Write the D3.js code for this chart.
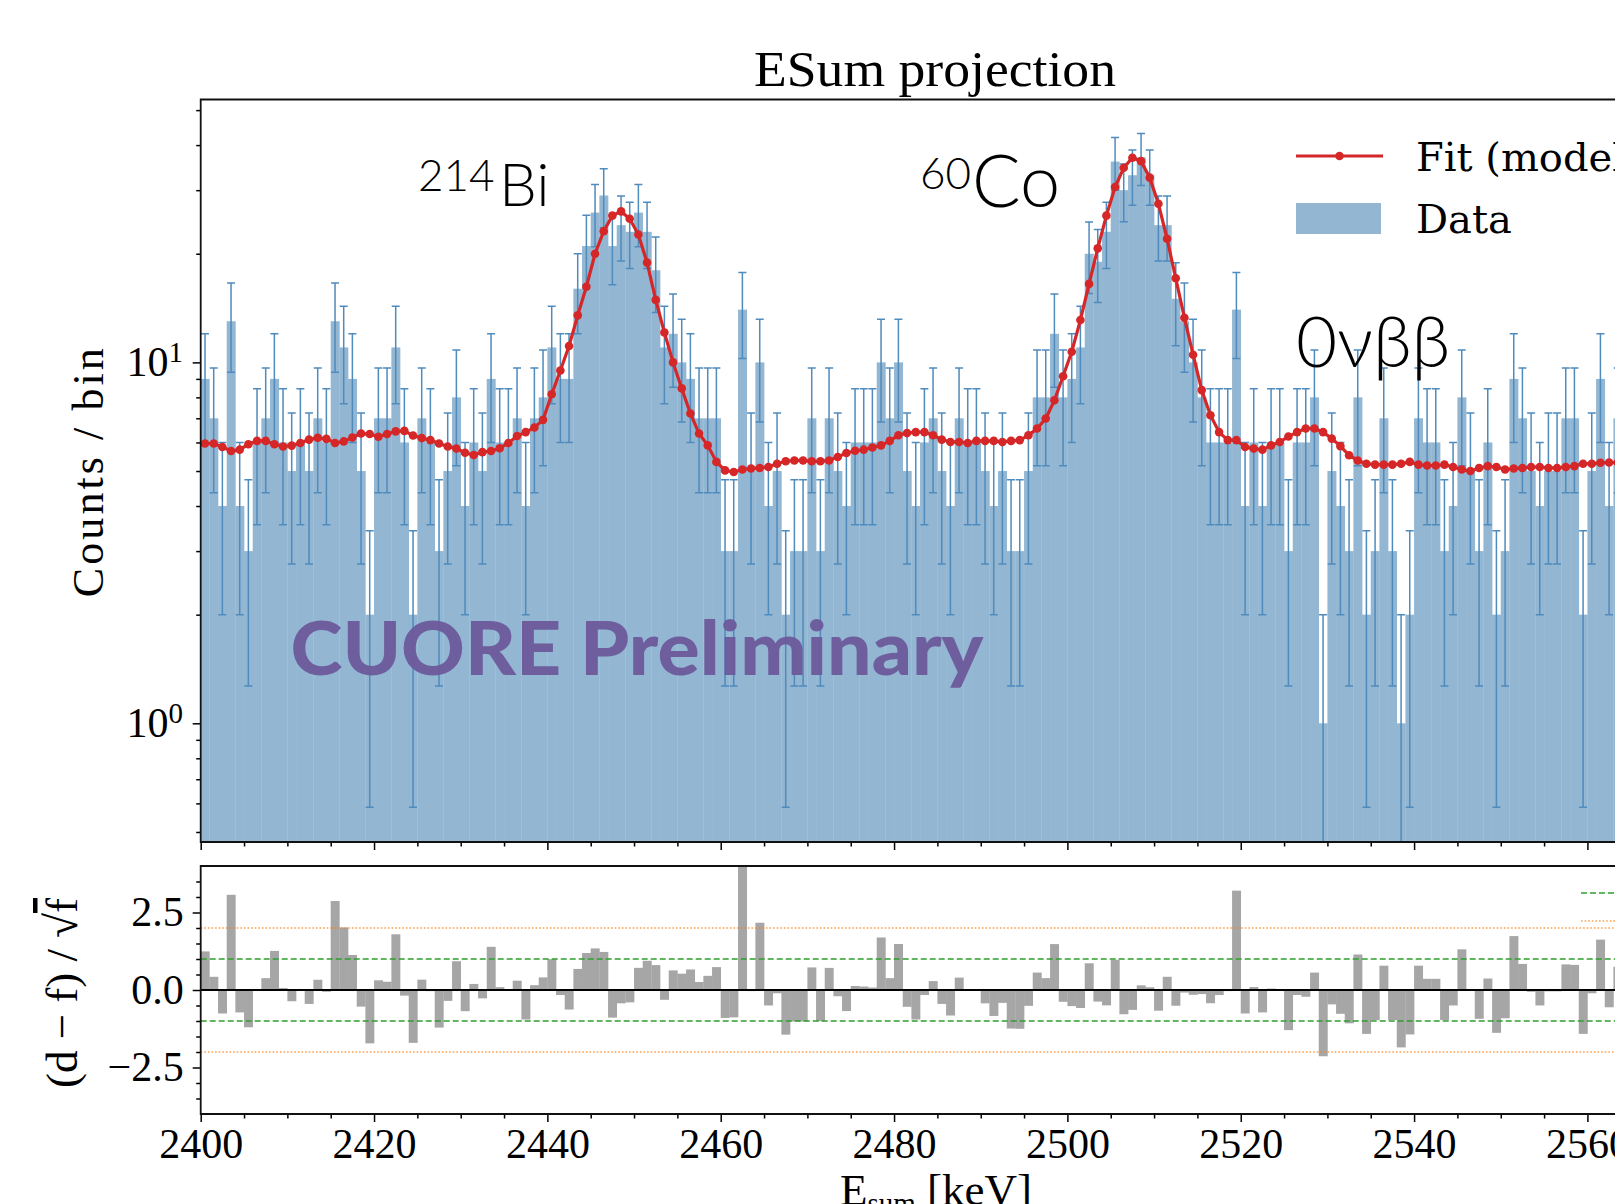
<!DOCTYPE html>
<html>
<head>
<meta charset="utf-8">
<script src="https://cdn.jsdelivr.net/npm/d3@7"></script>
<style>
  body { margin: 0; background: #fff; }
  svg { display: block; }
  .serif { font-family: "Liberation Serif", "DejaVu Serif", serif; }
</style>
</head>
<body>
<svg width="1615" height="1204"></svg>
<script>
// 1 keV bins starting at 2400 keV
const binLo = d3.range(2400, 2564);

const counts = [
  9, 7, 4, 13, 4, 3, 6, 7, 9, 6,
  5, 6, 5, 7, 6, 13, 11, 9, 5, 2,
  7, 7, 11, 6, 2, 7, 6, 3, 5, 8,
  4, 6, 5, 9, 6, 6, 7, 4, 7, 8,
  11, 9, 9, 16, 21, 26, 29, 21, 24, 23,
  26, 23, 18, 11, 12, 10, 9, 7, 7, 7,
  3, 3, 14, 5, 10, 4, 5, 2, 3, 3,
  7, 3, 7, 5, 4, 6, 6, 6, 10, 7,
  10, 5, 4, 6, 7, 5, 4, 7, 6, 6,
  5, 4, 5, 3, 3, 5, 8, 8, 12, 8,
  9, 11, 20, 19, 23, 36, 30, 33, 37, 33,
  24, 24, 15, 13, 10, 8, 6, 6, 6, 14,
  4, 6, 4, 6, 6, 3, 6, 6, 8, 1,
  5, 4, 3, 8, 2, 3, 7, 3, 1, 2,
  7, 6, 6, 3, 4, 8, 5, 3, 6, 2,
  3, 9, 7, 5, 4, 5, 5, 7, 7, 2,
  5, 9, 4, 7
];

// fit (model) value at each bin centre
const fitValues = [
  5.96, 5.96, 5.83, 5.68, 5.73, 5.93, 6.06, 6.06, 5.93, 5.85,
  5.88, 5.98, 6.11, 6.18, 6.14, 5.98, 6.04, 6.19, 6.35, 6.33,
  6.22, 6.33, 6.44, 6.46, 6.27, 6.17, 6.09, 5.96, 5.85, 5.77,
  5.62, 5.54, 5.64, 5.68, 5.78, 5.98, 6.25, 6.41, 6.6, 6.93,
  8.16, 9.5, 11.1, 13.5, 16.2, 20.0, 23.1, 25.5, 26.2, 25.0,
  22.6, 18.9, 14.9, 12.1, 10.0, 8.47, 7.22, 6.35, 5.89, 5.30,
  5.02, 4.97, 5.05, 5.08, 5.10, 5.13, 5.24, 5.32, 5.35, 5.35,
  5.32, 5.32, 5.35, 5.47, 5.61, 5.69, 5.73, 5.81, 5.89, 6.06,
  6.28, 6.37, 6.41, 6.41, 6.28, 6.11, 6.02, 6.02, 5.98, 6.06,
  6.06, 6.06, 6.02, 6.06, 6.09, 6.28, 6.56, 6.99, 7.85, 9.15,
  10.7, 13.1, 16.5, 20.7, 25.5, 30.6, 34.6, 36.9, 36.1, 32.5,
  27.5, 22.0, 17.1, 13.3, 10.5, 8.38, 7.14, 6.41, 6.09, 6.09,
  5.83, 5.77, 5.73, 5.89, 6.02, 6.23, 6.41, 6.56, 6.56, 6.41,
  6.15, 5.86, 5.53, 5.35, 5.24, 5.21, 5.21, 5.21, 5.24, 5.30,
  5.21, 5.18, 5.18, 5.21, 5.13, 5.05, 5.00, 5.10, 5.16, 5.13,
  5.05, 5.08, 5.10, 5.13, 5.13, 5.10, 5.10, 5.13, 5.16, 5.24,
  5.24, 5.27, 5.28, 5.28
];

const xMajor = [2400, 2420, 2440, 2460, 2480, 2500, 2520, 2540, 2560];
const xMinor = d3.range(2400, 2600, 5).filter(v => v % 20 !== 0);
const yMainMajor = [1, 10];
const yMainMinor = [0.5, 0.6, 0.7, 0.8, 0.9, 2, 3, 4, 5, 6, 7, 8, 9, 20, 30, 40, 50];
const yResMajor = [-2.5, 0, 2.5];
const yResMinor = [-3.5, -3, -2, -1.5, -1, -0.5, 0.5, 1, 1.5, 2, 3, 3.5];

const svg = d3.select('svg');

const left = 200.7;
const x = d3.scaleLinear().domain([2400, 2600]).range([left, left + 1733.4]);
const yMain = d3.scaleLog().domain([0.469, 53.5]).range([842, 99.5]);
const yRes = d3.scaleLinear().domain([-4, 4]).range([1114, 866]);

const bins = binLo.map((lo, i) => ({
  lo, hi: lo + 1, mid: lo + 0.5,
  n: counts[i], f: fitValues[i],
  r: (counts[i] - fitValues[i]) / Math.sqrt(fitValues[i])
}));

const defs = svg.append('defs');
defs.append('clipPath').attr('id', 'clipMain')
  .append('rect').attr('x', left).attr('y', 99.5).attr('width', 1500).attr('height', 842 - 99.5);
defs.append('clipPath').attr('id', 'clipRes')
  .append('rect').attr('x', left).attr('y', 866).attr('width', 1500).attr('height', 1114 - 866);

// ---------- main panel ----------
const main = svg.append('g').attr('clip-path', 'url(#clipMain)');

main.append('g').selectAll('rect').data(bins).join('rect')
  .attr('x', d => x(d.lo))
  .attr('width', d => x(d.hi) - x(d.lo) + 0.3)
  .attr('y', d => yMain(d.n))
  .attr('height', d => 842 - yMain(d.n))
  .attr('fill', '#93b6d2');

// error bars sqrt(n)
main.append('g').attr('stroke', '#4f8bbd').attr('stroke-width', 1.5).attr('fill', 'none')
  .selectAll('path').data(bins).join('path')
  .attr('d', d => {
    const cx = x(d.mid);
    const hi = yMain(d.n + Math.sqrt(d.n));
    const loV = d.n - Math.sqrt(d.n);
    const lo = loV > 0.469 ? yMain(loV) : 850;
    let p = `M${cx},${lo}V${hi}M${cx - 4},${hi}h8`;
    if (loV > 0.469) p += `M${cx - 4},${lo}h8`;
    return p;
  });

const fitLine = d3.line().x(d => x(d.mid)).y(d => yMain(d.f));
main.append('path').datum(bins)
  .attr('d', fitLine)
  .attr('fill', 'none').attr('stroke', '#d62728').attr('stroke-width', 3.2);
main.append('g').selectAll('circle').data(bins).join('circle')
  .attr('cx', d => x(d.mid)).attr('cy', d => yMain(d.f)).attr('r', 4.3)
  .attr('fill', '#d62728');

// watermark
svg.append('text')
  .attr('x', 290.5).attr('y', 675)
  .attr('textLength', 693).attr('lengthAdjust', 'spacingAndGlyphs')
  .style('font-family', 'Lato, "Open Sans", sans-serif')
  .style('font-weight', 900).style('font-size', '74px')
  .attr('fill', '#6c5a9b').attr('fill-opacity', 0.95)
  .text('CUORE Preliminary');

// peak labels
const lab = svg.append('g').style('font-family', 'Lato, "Open Sans", sans-serif')
  .style('font-weight', 300).attr('fill', '#000');
lab.append('text').attr('x', 418).attr('y', 190.5).style('font-size', '44px').text('214');
lab.append('text').attr('x', 499).attr('y', 206).style('font-size', '60px').text('Bi');
lab.append('text').attr('x', 920).attr('y', 188.5).style('font-size', '44px').text('60');
lab.append('text').attr('x', 972).attr('y', 206.5).style('font-size', '72px').text('Co');
lab.append('text').attr('x', 1296).attr('y', 367).style('font-size', '71px').text('0νββ');

// legend
const leg = svg.append('g');
leg.append('line').attr('x1', 1296).attr('x2', 1383).attr('y1', 156).attr('y2', 156)
  .attr('stroke', '#d62728').attr('stroke-width', 3.2);
leg.append('circle').attr('cx', 1339.5).attr('cy', 156).attr('r', 4.3).attr('fill', '#d62728');
leg.append('rect').attr('x', 1296).attr('y', 203).attr('width', 85).attr('height', 31)
  .attr('fill', '#93b6d2');
leg.selectAll('text').data(['Fit (model)', 'Data']).join('text')
  .attr('x', 1416).attr('y', (d, i) => [170.7, 233.3][i])
  .style('font-family', '"DejaVu Serif", serif').style('font-size', '40px')
  .text(d => d);

// main axes
const axMainX = svg.append('g').attr('transform', 'translate(0,842)');
axMainX.call(d3.axisBottom(x).tickValues(xMajor).tickSize(8).tickFormat(''));
axMainX.append('g').call(d3.axisBottom(x).tickValues(xMinor).tickSize(4.5).tickFormat(''));

const axMainY = svg.append('g').attr('transform', `translate(${left},0)`);
axMainY.call(d3.axisLeft(yMain).tickValues(yMainMajor).tickSize(8).tickFormat(''));
axMainY.append('g').call(d3.axisLeft(yMain).tickValues(yMainMinor).tickSize(4.5).tickFormat(''));

const yLab = svg.append('g').attr('class', 'serif');
yLab.selectAll('text').data(yMainMajor).join('text')
  .attr('x', 183).attr('y', d => yMain(d)).attr('dy', '0.33em')
  .attr('text-anchor', 'end').style('font-size', '42px')
  .call(t => {
    t.append('tspan').text('10');
    t.append('tspan').attr('dy', '-0.5em').style('font-size', '29px').text(d => Math.log10(d));
  });

// ---------- residual panel ----------
const res = svg.append('g').attr('clip-path', 'url(#clipRes)');
res.append('g').selectAll('rect').data(bins).join('rect')
  .attr('x', d => x(d.lo))
  .attr('width', d => x(d.hi) - x(d.lo) + 0.3)
  .attr('y', d => yRes(Math.max(d.r, 0)))
  .attr('height', d => Math.abs(yRes(d.r) - yRes(0)))
  .attr('fill', '#a6a6a6');

const refLines = [
  { v: 0, stroke: '#000', dash: null, w: 1.9, op: 1 },
  { v: 1, stroke: '#2ca02c', dash: '6,3', w: 1.6, op: 1 },
  { v: -1, stroke: '#2ca02c', dash: '6,3', w: 1.6, op: 1 },
  { v: 2, stroke: '#ff7f0e', dash: '1.6,2', w: 1.6, op: 0.75 },
  { v: -2, stroke: '#ff7f0e', dash: '1.6,2', w: 1.6, op: 0.75 }
];
res.selectAll('line.ref').data(refLines).join('line')
  .attr('x1', left).attr('x2', 1615)
  .attr('y1', d => yRes(d.v)).attr('y2', d => yRes(d.v))
  .attr('stroke', d => d.stroke).attr('stroke-width', d => d.w)
  .attr('stroke-dasharray', d => d.dash).attr('stroke-opacity', d => d.op);

// residual legend handles (their texts sit beyond the frame)
svg.append('line').attr('x1', 1581).attr('x2', 1668).attr('y1', 893).attr('y2', 893)
  .attr('stroke', '#2ca02c').attr('stroke-width', 1.6).attr('stroke-dasharray', '6,3');
svg.append('line').attr('x1', 1581).attr('x2', 1668).attr('y1', 921).attr('y2', 921)
  .attr('stroke', '#ff7f0e').attr('stroke-width', 1.6).attr('stroke-dasharray', '1.6,2')
  .attr('stroke-opacity', 0.75);

const axResX = svg.append('g').attr('transform', 'translate(0,1114)').attr('class', 'serif');
axResX.call(d3.axisBottom(x).tickValues(xMajor).tickSize(8).tickPadding(6).tickFormat(d3.format('d')));
axResX.append('g').call(d3.axisBottom(x).tickValues(xMinor).tickSize(4.5).tickFormat(''));

const axResY = svg.append('g').attr('transform', `translate(${left},0)`).attr('class', 'serif');
axResY.call(d3.axisLeft(yRes).tickValues(yResMajor).tickSize(8).tickPadding(9).tickFormat(d3.format('.1f')));
axResY.append('g').call(d3.axisLeft(yRes).tickValues(yResMinor).tickSize(4.5).tickFormat(''));

// axis styling
svg.selectAll('.domain').remove();
svg.selectAll('.tick line').attr('stroke', '#000').attr('stroke-width', 1.5);
svg.selectAll('.tick text').attr('fill', '#000').style('font-size', '42px')
  .style('font-family', '"Liberation Serif", serif');

// spines
const spines = svg.append('g').attr('stroke', '#111').attr('stroke-width', 1.8).attr('fill', 'none');
spines.append('path').attr('d', `M1615,99.5H${left}V842H1615`);
spines.append('path').attr('d', `M1615,866H${left}V1114H1615`);

// titles and axis labels
const txt = svg.append('g').attr('class', 'serif').attr('fill', '#000');
txt.append('text').attr('x', 935).attr('y', 86).attr('text-anchor', 'middle')
  .attr('textLength', 362).attr('lengthAdjust', 'spacingAndGlyphs')
  .style('font-size', '50px').text('ESum projection');
txt.append('text').attr('transform', 'translate(103,472.7) rotate(-90)')
  .attr('text-anchor', 'middle').attr('textLength', 249).style('font-size', '44px')
  .text('Counts / bin');
txt.append('text').attr('transform', 'translate(77,993) rotate(-90)')
  .attr('text-anchor', 'middle').style('font-size', '45px')
  .call(t => {
    t.append('tspan').text('(d − f) / √');
    t.append('tspan').style('text-decoration', 'overline').text('f');
  });
txt.append('text').attr('x', 840).attr('y', 1205).style('font-size', '45px')
  .call(t => {
    t.append('tspan').text('E');
    t.append('tspan').attr('dy', 8).style('font-size', '29px').text('sum');
    t.append('tspan').attr('dy', -8).text(' [keV]');
  });
</script>
</body>
</html>
